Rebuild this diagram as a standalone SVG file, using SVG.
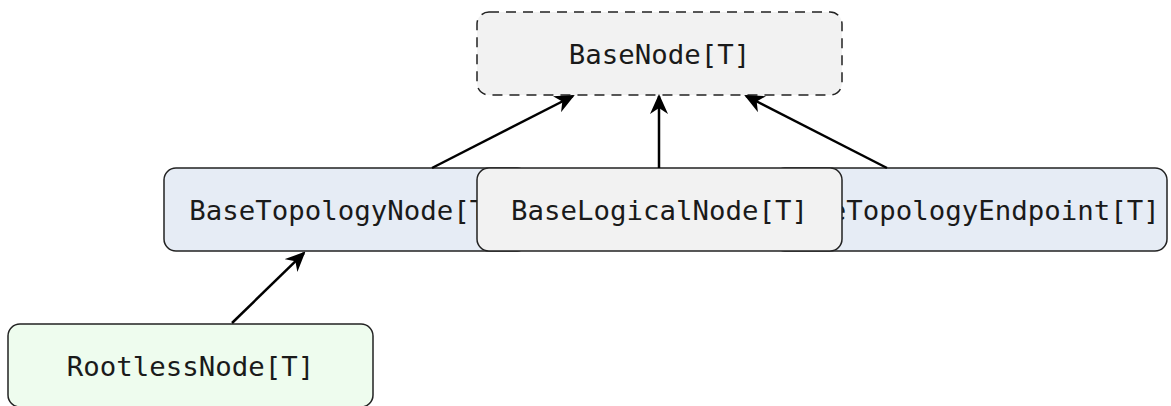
<svg xmlns="http://www.w3.org/2000/svg" width="1171" height="406" viewBox="0 0 1171 406">
<style>
.box{stroke:#222;stroke-width:1.5}
.gray{fill:#f2f2f2}
.blue{fill:#e6ecf5}
.green{fill:#eefcee}
.dash{stroke-dasharray:10 7}
.lbl{font-family:"DejaVu Sans Mono","Liberation Mono",monospace;font-size:27.4px;fill:#1a1a1a;text-anchor:middle}
.edge{stroke:#000;stroke-width:2.5;fill:none;marker-end:url(#arr)}
</style>
<defs>
<marker id="arr" viewBox="0 0 20 18" refX="18" refY="9" markerWidth="20" markerHeight="18" markerUnits="userSpaceOnUse" orient="auto">
<path d="M0,0 L20,9 L0,18 L6,9 Z" fill="#000"/>
</marker>
</defs>
<rect width="1171" height="406" fill="#fff"/>
<g id="BaseNode">
<rect class="box gray dash" x="477" y="12" width="365" height="83" rx="12"/>
<text class="lbl" x="659.5" y="63.5">BaseNode[T]</text>
</g>
<g id="BaseTopologyNode">
<rect class="box blue" x="164" y="168" width="365" height="83" rx="12"/>
<text class="lbl" x="346" y="219.5">BaseTopologyNode[T]</text>
</g>
<g id="BaseTopologyEndpoint">
<rect class="box blue" x="773" y="168" width="394" height="83" rx="12"/>
<text class="lbl" x="970" y="219.5">BaseTopologyEndpoint[T]</text>
</g>
<g id="BaseLogicalNode">
<rect class="box gray" x="477" y="168" width="365" height="83" rx="12"/>
<text class="lbl" x="659.5" y="219.5">BaseLogicalNode[T]</text>
</g>
<g id="RootlessNode">
<rect class="box green" x="8" y="324" width="365" height="83" rx="12"/>
<text class="lbl" x="190.5" y="375.5">RootlessNode[T]</text>
</g>
<g id="connectors">
<path class="edge" d="M432,168 L573,96"/>
<path class="edge" d="M659,168 L659,96"/>
<path class="edge" d="M887,168 L746,96"/>
<path class="edge" d="M232,323 L304,253"/>
</g>
</svg>
